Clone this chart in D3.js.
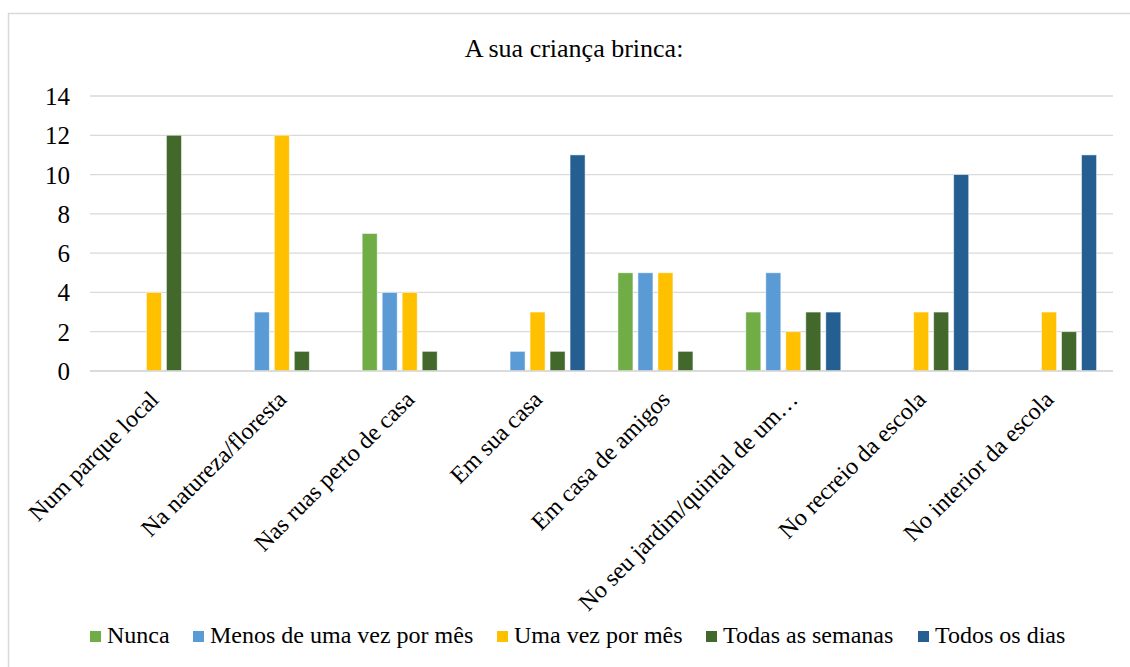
<!DOCTYPE html>
<html>
<head>
<meta charset="utf-8">
<script src="https://cdn.jsdelivr.net/npm/d3@7"></script>
</head>
<body style="margin:0">
<script>
// data
var categories = [
    "Num parque local",
    "Na natureza/floresta",
    "Nas ruas perto de casa",
    "Em sua casa",
    "Em casa de amigos",
    "No seu jardim/quintal de um\u2026",
    "No recreio da escola",
    "No interior da escola"
];
var seriesNames = ["Nunca", "Menos de uma vez por mês", "Uma vez por mês", "Todas as semanas", "Todos os dias"];
var seriesColors = ["#70ad47", "#5b9bd5", "#ffc000", "#43682b", "#255e91"];
var nunca        = [0, 0, 7, 0, 5, 3, 0, 0];
var menos        = [0, 3, 4, 1, 5, 5, 0, 0];
var umaVez       = [4, 12, 4, 3, 5, 2, 3, 3];
var todasSemanas = [12, 1, 1, 1, 1, 3, 3, 2];
var todosDias    = [0, 0, 0, 11, 0, 3, 10, 11];
var yTicks = [0, 2, 4, 6, 8, 10, 12, 14];
var title = "A sua criança brinca:";

var values = [nunca, menos, umaVez, todasSemanas, todosDias];
var legendX = [90, 193, 497, 706, 918]; // legend swatch positions
var FONT = "'Liberation Serif', 'Times New Roman', serif";

var W = 1130, H = 667;
var svg = d3.select("body").append("svg")
    .attr("width", W)
    .attr("height", H)
    .style("display", "block")
    .style("font-family", FONT);

function serif(sel, size) {
    return sel.attr("font-family", "Liberation Serif")
        .style("font-family", FONT)
        .attr("font-size", size);
}

// chart border (runs off the right/bottom edge)
svg.append("rect")
    .attr("x", 8.5).attr("y", 13.5)
    .attr("width", W + 20).attr("height", H + 20)
    .attr("fill", "none")
    .attr("stroke", "#d9d9d9")
    .attr("stroke-width", 1.5);

serif(svg.append("text"), 26)
    .attr("x", 574).attr("y", 57)
    .attr("text-anchor", "middle")
    .text(title);

var x0 = d3.scaleBand().domain(categories).range([90, 1113]);
var bw = x0.bandwidth();
var x1 = d3.scaleBand().domain(d3.range(seriesNames.length))
    .range([bw * 0.109, bw * 0.891])
    .paddingInner(0.25).paddingOuter(0.125);
var y = d3.scaleLinear().domain([0, 14]).range([371, 96]);

// gridlines
svg.append("g").selectAll("line").data(yTicks)
  .enter().append("line")
    .attr("x1", 90).attr("x2", 1113)
    .attr("y1", function(d) { return y(d); })
    .attr("y2", function(d) { return y(d); })
    .attr("stroke", "#d9d9d9")
    .attr("stroke-width", 1.3);

// y axis labels
var yAxis = svg.append("g")
    .attr("transform", "translate(90,0)")
    .call(d3.axisLeft(y).tickValues(yTicks).tickSize(0).tickPadding(20));
yAxis.select(".domain").remove();
serif(yAxis, 25);
serif(yAxis.selectAll("text"), 25).attr("fill", "#000").attr("dy", "0.34em");

// bars
var group = svg.append("g").selectAll("g").data(categories)
  .enter().append("g")
    .attr("transform", function(c) { return "translate(" + x0(c) + ",0)"; });

group.selectAll("rect")
    .data(function(c, ci) {
        return values.map(function(v, si) { return {s: si, v: v[ci]}; });
    })
  .enter().append("rect")
    .filter(function(d) { return d.v > 0; })
    .attr("x", function(d) { return x1(d.s); })
    .attr("width", x1.bandwidth())
    .attr("y", function(d) { return y(d.v); })
    .attr("height", function(d) { return y(0) - y(d.v); })
    .attr("fill", function(d) { return seriesColors[d.s]; })
    .attr("stroke", "#ffffff")
    .attr("stroke-opacity", 0.6)
    .attr("stroke-width", 0.8);

// x axis baseline
svg.append("line")
    .attr("x1", 90).attr("x2", 1113)
    .attr("y1", y(0)).attr("y2", y(0))
    .attr("stroke", "#d9d9d9")
    .attr("stroke-width", 1.3);

// rotated category labels
serif(svg.append("g").selectAll("text").data(categories)
  .enter().append("text"), 24)
    .attr("transform", function(c) {
        return "translate(" + (x0(c) + bw / 2 + 6) + ",401) rotate(-45)";
    })
    .attr("text-anchor", "end")
    .text(function(c) { return c; });

// legend
var legend = svg.append("g").attr("transform", "translate(0,643)");
var item = legend.selectAll("g").data(seriesNames)
  .enter().append("g")
    .attr("transform", function(d, i) { return "translate(" + legendX[i] + ",0)"; });
item.append("rect")
    .attr("x", 0).attr("y", -12)
    .attr("width", 11).attr("height", 11)
    .attr("fill", function(d, i) { return seriesColors[i]; });
serif(item.append("text"), 24)
    .attr("x", 17).attr("y", 0)
    .text(function(d) { return d; });
</script>
</body>
</html>
